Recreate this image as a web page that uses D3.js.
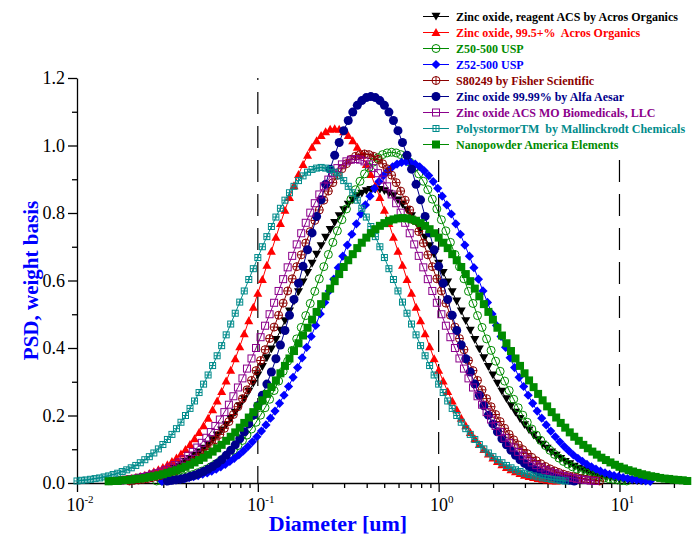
<!DOCTYPE html>
<html>
<head>
<meta charset="utf-8">
<script src="https://d3js.org/d3.v7.min.js"></script>
<style>
  body { margin: 0; background: #fff; }
  svg { display: block; font-family: "Liberation Serif", "Times New Roman", serif; }
</style>
</head>
<body>
<svg id="chart" width="693" height="538"></svg>
<script>
// size classes are spaced evenly in log10(diameter)
const STEP_LOG = 0.025;

const legendLabels = [
  "Zinc oxide, reagent ACS by Acros Organics",
  "Zinc oxide, 99.5+%  Acros Organics",
  "Z50-500 USP",
  "Z52-500 USP",
  "S80249 by Fisher Scientific",
  "Zinc oxide 99.99% by Alfa Aesar",
  "Zinc oxide ACS MO Biomedicals, LLC",
  "PolystormorTM  by Mallinckrodt Chemicals",
  "Nanopowder America Elements"
];

// log10 of the first diameter [um] of each series
const firstLogDiameter = [-1.825, -1.8, -1.56, -1.53, -1.71, -1.5, -1.785, -2.0, -1.825];

const psdAcrosReagent = [0.005,0.006,0.007,0.008,0.010,0.011,0.013,0.016,0.018,0.021,0.025,0.028,0.033,0.038,0.043,0.049,0.056,0.063,0.072,0.081,0.091,0.102,0.114,0.127,0.141,0.156,0.172,0.190,0.209,0.228,0.249,0.271,0.295,0.319,0.344,0.370,0.396,0.424,0.452,0.480,0.509,0.538,0.566,0.595,0.623,0.650,0.677,0.702,0.727,0.750,0.771,0.791,0.809,0.825,0.838,0.850,0.858,0.865,0.869,
  0.870,
  0.869,0.865,0.858,0.850,0.838,0.825,0.809,0.791,0.771,0.750,0.727,0.702,0.677,0.650,0.623,0.595,0.566,0.538,0.509,0.480,0.452,0.424,0.396,0.370,0.344,0.319,0.295,0.271,0.249,0.228,0.209,0.190,0.172,0.156,0.141,0.127,0.114,0.102,0.091,0.081,0.072,0.063,0.056,0.049,0.043,0.038,0.033,0.028,0.025,0.021,0.018,0.016,0.013,0.011,0.010,0.008,0.007,0.006,0.005];

const psdAcros995 = [0.006,0.007,0.009,0.011,0.013,0.016,0.019,0.023,0.028,0.033,0.039,0.046,0.054,0.064,0.074,0.086,0.099,0.114,0.131,0.150,0.170,0.192,0.217,0.243,0.271,0.302,0.334,0.368,0.404,0.442,0.481,0.521,0.562,0.603,0.645,0.687,0.728,0.769,0.808,0.846,0.881,0.914,0.944,0.971,0.995,1.014,1.030,1.041,1.048,
  1.050,
  1.048,1.041,1.030,1.014,0.995,0.971,0.944,0.914,0.881,0.846,0.808,0.769,0.728,0.687,0.645,0.603,0.562,0.521,0.481,0.442,0.404,0.368,0.334,0.302,0.271,0.243,0.217,0.192,0.170,0.150,0.131,0.114,0.099,0.086,0.074,0.064,0.054,0.046,0.039,0.033,0.028,0.023,0.019,0.016,0.013,0.011,0.009,0.007,0.006];

const psdZ50 = [0.006,0.007,0.009,0.011,0.013,0.015,0.018,0.022,0.025,0.030,0.035,0.041,0.048,0.056,0.064,0.074,0.085,0.097,0.111,0.126,0.142,0.160,0.180,0.201,0.223,0.248,0.274,0.302,0.331,0.361,0.393,0.427,0.461,0.496,0.532,0.568,0.605,0.641,0.677,0.713,0.747,0.780,0.812,0.841,0.869,0.894,0.916,0.935,0.951,0.964,0.973,0.978,
  0.980,
  0.978,0.973,0.964,0.951,0.935,0.916,0.894,0.869,0.841,0.812,0.780,0.747,0.713,0.677,0.641,0.605,0.568,0.532,0.496,0.461,0.427,0.393,0.361,0.331,0.302,0.274,0.248,0.223,0.201,0.180,0.160,0.142,0.126,0.111,0.097,0.085,0.074,0.064,0.056,0.048,0.041,0.035,0.030,0.025,0.022,0.018,0.015,0.013,0.011,0.009,0.007,0.006];

const psdZ52 = [0.005,0.006,0.008,0.009,0.011,0.013,0.016,0.019,0.022,0.026,0.030,0.035,0.041,0.048,0.055,0.064,0.073,0.083,0.095,0.108,0.122,0.137,0.154,0.172,0.192,0.213,0.236,0.260,0.286,0.313,0.342,0.371,0.402,0.434,0.467,0.501,0.535,0.569,0.604,0.638,0.672,0.705,0.737,0.768,0.797,0.824,0.850,0.873,0.893,0.911,0.925,0.937,0.945,0.950,
  0.952,
  0.950,0.945,0.937,0.925,0.911,0.893,0.873,0.850,0.824,0.797,0.768,0.737,0.705,0.672,0.638,0.604,0.569,0.535,0.501,0.467,0.434,0.402,0.371,0.342,0.313,0.286,0.260,0.236,0.213,0.192,0.172,0.154,0.137,0.122,0.108,0.095,0.083,0.073,0.064,0.055,0.048,0.041,0.035,0.030,0.026,0.022,0.019,0.016,0.013,0.011,0.009,0.008,0.006,0.005];

const psdFisher = [0.006,0.008,0.009,0.011,0.013,0.016,0.019,0.022,0.026,0.031,0.036,0.042,0.049,0.057,0.066,0.076,0.087,0.099,0.113,0.128,0.144,0.162,0.182,0.203,0.226,0.250,0.276,0.304,0.333,0.363,0.395,0.428,0.462,0.497,0.533,0.569,0.605,0.641,0.676,0.711,0.745,0.778,0.809,0.838,0.865,0.890,0.912,0.931,0.946,0.959,0.968,0.973,
  0.975,
  0.973,0.968,0.959,0.946,0.931,0.912,0.890,0.865,0.838,0.809,0.778,0.745,0.711,0.676,0.641,0.605,0.569,0.533,0.497,0.462,0.428,0.395,0.363,0.333,0.304,0.276,0.250,0.226,0.203,0.182,0.162,0.144,0.128,0.113,0.099,0.087,0.076,0.066,0.057,0.049,0.042,0.036,0.031,0.026,0.022,0.019,0.016,0.013,0.011,0.009,0.008,0.006];

const psdAlfa = [0.006,0.008,0.010,0.012,0.015,0.019,0.023,0.028,0.034,0.041,0.049,0.058,0.069,0.082,0.097,0.113,0.131,0.152,0.175,0.201,0.229,0.260,0.293,0.329,0.368,0.409,0.452,0.497,0.544,0.592,0.642,0.691,0.741,0.790,0.839,0.885,0.930,0.971,1.009,1.044,1.074,1.099,1.119,1.133,1.142,
  1.145,
  1.142,1.133,1.119,1.099,1.074,1.044,1.009,0.971,0.930,0.885,0.839,0.790,0.741,0.691,0.642,0.592,0.544,0.497,0.452,0.409,0.368,0.329,0.293,0.260,0.229,0.201,0.175,0.152,0.131,0.113,0.097,0.082,0.069,0.058,0.049,0.041,0.034,0.028,0.023,0.019,0.015,0.012,0.010,0.008,0.006];

const psdMoBio = [0.006,0.007,0.009,0.010,0.012,0.015,0.018,0.021,0.025,0.029,0.034,0.039,0.046,0.053,0.061,0.070,0.081,0.092,0.105,0.119,0.134,0.151,0.169,0.188,0.210,0.232,0.257,0.283,0.310,0.339,0.369,0.400,0.432,0.466,0.500,0.534,0.569,0.604,0.639,0.673,0.707,0.740,0.771,0.801,0.829,0.855,0.879,0.899,0.918,0.933,0.944,0.953,0.958,
  0.960,
  0.958,0.953,0.944,0.933,0.918,0.899,0.879,0.855,0.829,0.801,0.771,0.740,0.707,0.673,0.639,0.604,0.569,0.534,0.500,0.466,0.432,0.400,0.369,0.339,0.310,0.283,0.257,0.232,0.210,0.188,0.169,0.151,0.134,0.119,0.105,0.092,0.081,0.070,0.061,0.053,0.046,0.039,0.034,0.029,0.025,0.021,0.018,0.015,0.012,0.010,0.009,0.007,0.006];

const psdPolystormor = [0.006,0.008,0.009,0.011,0.013,0.015,0.018,0.021,0.025,0.029,0.034,0.039,0.045,0.052,0.060,0.069,0.078,0.089,0.101,0.114,0.129,0.144,0.161,0.180,0.200,0.221,0.243,0.268,0.293,0.320,0.348,0.377,0.407,0.439,0.471,0.503,0.536,0.569,0.603,0.635,0.668,0.700,0.730,0.760,0.788,0.814,0.838,0.860,0.879,0.896,0.910,0.921,0.929,0.933,
  0.935,
  0.933,0.929,0.921,0.910,0.896,0.879,0.860,0.838,0.814,0.788,0.760,0.730,0.700,0.668,0.635,0.603,0.569,0.536,0.503,0.471,0.439,0.407,0.377,0.348,0.320,0.293,0.268,0.243,0.221,0.200,0.180,0.161,0.144,0.129,0.114,0.101,0.089,0.078,0.069,0.060,0.052,0.045,0.039,0.034,0.029,0.025,0.021,0.018,0.015,0.013,0.011,0.009,0.008,0.006];

const psdNanopowder = [0.005,0.006,0.006,0.008,0.009,0.010,0.012,0.013,0.015,0.018,0.020,0.023,0.026,0.030,0.034,0.038,0.043,0.048,0.054,0.061,0.068,0.075,0.084,0.093,0.103,0.113,0.125,0.137,0.150,0.164,0.178,0.194,0.210,0.227,0.245,0.264,0.284,0.304,0.325,0.347,0.369,0.391,0.414,0.437,0.460,0.484,0.507,0.530,0.553,0.576,0.598,0.619,0.640,0.660,0.678,0.696,0.712,0.727,0.740,0.752,0.762,0.770,0.777,0.781,0.784,
  0.785,
  0.784,0.781,0.777,0.770,0.762,0.752,0.740,0.727,0.712,0.696,0.678,0.660,0.640,0.619,0.598,0.576,0.553,0.530,0.507,0.484,0.460,0.437,0.414,0.391,0.369,0.347,0.325,0.304,0.284,0.264,0.245,0.227,0.210,0.194,0.178,0.164,0.150,0.137,0.125,0.113,0.103,0.093,0.084,0.075,0.068,0.061,0.054,0.048,0.043,0.038,0.034,0.030,0.026,0.023,0.020,0.018,0.015,0.013,0.012,0.010,0.009,0.008,0.006,0.006,0.005];

const yMajorTicks = [0, 0.2, 0.4, 0.6, 0.8, 1.0, 1.2];
const yMinorTicks = [0.1, 0.3, 0.5, 0.7, 0.9, 1.1];
const xDecadeExponents = [-2, -1, 0, 1];
const xGridDiameters = [0.1, 1, 10];

// ---- styling, kept apart from the data ----
const seriesValues = [psdAcrosReagent, psdAcros995, psdZ50, psdZ52, psdFisher, psdAlfa, psdMoBio, psdPolystormor, psdNanopowder];
const colors = ["#000000", "#ff0000", "#008b00", "#0000ff", "#8b0000", "#00008b", "#8b008b", "#008b8b", "#008b00"];
const symbols = ["triDown", "triUp", "circleOpen", "diamond", "circlePlus", "circle", "squareOpen", "squarePlus", "square"];

const svg = d3.select("#chart");
const X_MAX_LOG = 1.39;

const x = d3.scaleLog().domain([0.01, Math.pow(10, X_MAX_LOG)]).range([77, 690]);
const y = d3.scaleLinear().domain([0, 1.2]).range([483, 78]);

// dashed lines at each decade
svg.append("g")
  .selectAll("line")
  .data(xGridDiameters)
  .join("line")
  .attr("x1", d => x(d)).attr("x2", d => x(d))
  .attr("y1", y(1.2)).attr("y2", y(0))
  .attr("stroke", "#000")
  .attr("stroke-width", 1.2)
  .attr("stroke-dasharray", "22,12")
  .attr("stroke-dashoffset", 20);

// axes
const yAxis = svg.append("g").attr("transform", `translate(${x(0.01)},0)`);
yAxis.call(d3.axisLeft(y).tickValues(yMajorTicks).tickSize(9).tickSizeOuter(0).tickPadding(3)
  .tickFormat(d3.format(".1f")));
yAxis.append("g").call(d3.axisLeft(y).tickValues(yMinorTicks).tickSize(5).tickFormat(""))
  .select(".domain").remove();
yAxis.selectAll("text").attr("font-size", 18).attr("font-family", "Liberation Serif").attr("fill", "#000");
yAxis.selectAll("line, path").attr("stroke", "#000").attr("stroke-width", 1.3);

const xMajor = xDecadeExponents.map(e => Math.pow(10, e));
const xMinor = [];
xDecadeExponents.forEach(e => {
  for (let m = 2; m <= 9; m++) {
    const v = m * Math.pow(10, e);
    if (Math.log10(v) <= X_MAX_LOG) xMinor.push(v);
  }
});

const xAxis = svg.append("g").attr("transform", `translate(0,${y(0)})`);
xAxis.call(d3.axisBottom(x).tickValues(xMajor).tickSize(9).tickSizeOuter(0).tickFormat(""));
xAxis.append("g").call(d3.axisBottom(x).tickValues(xMinor).tickSize(5).tickFormat(""))
  .select(".domain").remove();
xAxis.selectAll("line, path").attr("stroke", "#000").attr("stroke-width", 1.3);

const xLabels = svg.append("g").attr("font-size", 18).attr("fill", "#000");
xDecadeExponents.forEach(e => {
  const t = xLabels.append("text")
    .attr("x", x(Math.pow(10, e)) + 3)
    .attr("y", 511)
    .attr("text-anchor", "middle");
  t.append("tspan").text("10");
  t.append("tspan").attr("font-size", 11).attr("dy", -8).text(String(e));
});

// axis titles
svg.append("text")
  .attr("x", 338).attr("y", 531)
  .attr("text-anchor", "middle")
  .attr("font-size", 22).attr("font-weight", "bold").attr("fill", "#0000ff")
  .text("Diameter [um]");

svg.append("text")
  .attr("transform", `translate(38,${(y(0) + y(1.2)) / 2}) rotate(-90)`)
  .attr("text-anchor", "middle")
  .attr("font-size", 21).attr("font-weight", "bold").attr("fill", "#0000ff")
  .text("PSD, weight basis");

// markers
function drawMarker(g, type, color) {
  switch (type) {
    case "triDown":
      g.append("path").attr("d", "M0,4 L-4.5,-3.8 L4.5,-3.8 Z").attr("fill", color);
      break;
    case "triUp":
      g.append("path").attr("d", "M0,-4.5 L4.5,3.5 L-4.5,3.5 Z").attr("fill", color);
      break;
    case "circleOpen":
      g.append("circle").attr("r", 4).attr("fill", "none").attr("stroke", color).attr("stroke-width", 1);
      break;
    case "diamond":
      g.append("path").attr("d", "M0,-4.6 L4.6,0 L0,4.6 L-4.6,0 Z").attr("fill", color);
      break;
    case "circlePlus":
      g.append("circle").attr("r", 4).attr("fill", "none").attr("stroke", color).attr("stroke-width", 1);
      g.append("path").attr("d", "M-4,0 H4 M0,-4 V4").attr("stroke", color).attr("stroke-width", 1);
      break;
    case "circle":
      g.append("circle").attr("r", 4.5).attr("fill", color);
      break;
    case "squareOpen":
      g.append("rect").attr("x", -3.5).attr("y", -3.5).attr("width", 7).attr("height", 7)
        .attr("fill", "none").attr("stroke", color).attr("stroke-width", 1);
      break;
    case "squarePlus":
      g.append("rect").attr("x", -3).attr("y", -3).attr("width", 6).attr("height", 6)
        .attr("fill", "none").attr("stroke", color).attr("stroke-width", 1);
      g.append("path").attr("d", "M-3,0 H3 M0,-3 V3").attr("stroke", color).attr("stroke-width", 1);
      break;
    case "square":
      g.append("rect").attr("x", -4).attr("y", -4).attr("width", 8).attr("height", 8).attr("fill", color);
      break;
  }
}

const line = d3.line().x(d => x(d.d)).y(d => y(d.v));

seriesValues.forEach((vals, i) => {
  const pts = vals
    .map((v, j) => ({ d: Math.pow(10, firstLogDiameter[i] + j * STEP_LOG), v: v }))
    .filter(p => Math.log10(p.d) <= X_MAX_LOG + 1e-9);

  const g = svg.append("g");
  g.append("path").datum(pts)
    .attr("d", line)
    .attr("fill", "none")
    .attr("stroke", colors[i])
    .attr("stroke-width", 1);

  g.selectAll("g.m").data(pts).join("g")
    .attr("class", "m")
    .attr("transform", p => `translate(${x(p.d)},${y(p.v)})`)
    .each(function () { drawMarker(d3.select(this), symbols[i], colors[i]); });
});

// legend
const legend = svg.append("g");
legend.append("rect").attr("x", 418).attr("y", 4).attr("width", 275).attr("height", 148).attr("fill", "#fff");
legendLabels.forEach((label, i) => {
  const cy = 16.5 + i * 16;
  const row = legend.append("g");
  row.append("line").attr("x1", 423).attr("x2", 449).attr("y1", cy).attr("y2", cy)
    .attr("stroke", colors[i]).attr("stroke-width", 1);
  drawMarker(row.append("g").attr("transform", `translate(436,${cy})`), symbols[i], colors[i]);
  row.append("text").attr("x", 456).attr("y", cy + 4)
    .attr("font-size", 12).attr("font-weight", "bold").attr("fill", colors[i])
    .attr("xml:space", "preserve").style("white-space", "pre")
    .text(label);
});
</script>
</body>
</html>
